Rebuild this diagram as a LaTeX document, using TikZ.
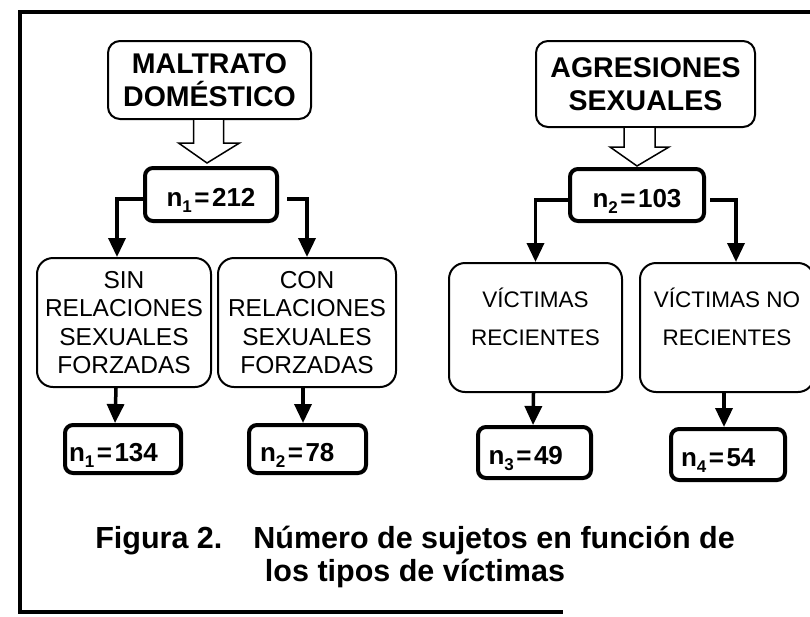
\documentclass[tikz,border=0pt]{standalone}
\usepackage{fontspec}
\setmainfont{Liberation Sans}
\usetikzlibrary{arrows.meta,calc}
\newcommand\nsub[1]{\raisebox{-6pt}{\fontsize{17}{17}\selectfont #1}}
\newcommand\eqq{\hspace{2.5pt}=\hspace{2.5pt}}
\begin{document}
\begin{tikzpicture}[x=1pt,y=-1pt,
  every node/.style={inner sep=0pt, align=center},
  headbox/.style={draw, line width=2pt, rounded corners=12pt, font=\fontsize{28.5}{33}\selectfont\bfseries},
  nbox/.style={draw, line width=4pt, rounded corners=8pt, font=\fontsize{26}{30}\selectfont\bfseries, text height=24pt, text depth=0pt},
  nboxl/.style={nbox, text width=#1, align=left},
  catbox/.style={draw, line width=2pt, rounded corners=16pt},
  cattext/.style={font=\fontsize{24.5}{28.5}\selectfont},
  victext/.style={font=\fontsize{22.5}{38}\selectfont, text depth=22pt},
  arr/.style={line width=3.5pt, -{Triangle[length=19pt,width=17pt]}},
  hollow/.style={draw, line width=1.5pt, fill=white, line join=miter},
  frame/.style={line width=4.5pt}
]
\useasboundingbox (0,0) rectangle (810,616);
\draw[frame] (812,12) -- (20,12) -- (20,612) -- (563,612);

% left tree
\node[headbox, minimum width=203, minimum height=78] (mal) at (209.5,80) {MALTRATO\\DOMÉSTICO};
\node[nbox, minimum width=132, minimum height=53] (n1) at (211,194.5) {n\nsub{1}\eqq212};
\node[catbox, cattext, minimum width=174, minimum height=129] (sin) at (124,322.5) {SIN\\RELACIONES\\SEXUALES\\FORZADAS};
\node[catbox, cattext, minimum width=178, minimum height=129] (con) at (307,322.5) {CON\\RELACIONES\\SEXUALES\\FORZADAS};
\node[nboxl=108, minimum width=116, minimum height=48] (m1) at (123,449) {n\nsub{1}\eqq134};
\node[nboxl=95, minimum width=117, minimum height=48] (m2) at (307.5,449) {n\nsub{2}\eqq78};

\draw[hollow] ($(mal.south)+(-16,0)$) -- ($(mal.south)+(-16,23)$) -- ($(mal.south)+(-31,23)$)
  -- ($(n1.north)+(-4,-3)$) -- ($(mal.south)+(30,23)$) -- ($(mal.south)+(14,23)$) -- ($(mal.south)+(14,0)$);
\draw[arr] ($(n1.west)+(0,4.5)$) -| ($(sin.north)+(-7,0)$);
\draw[arr] ($(n1.east)+(8,4.5)$) -| (con.north);
\draw[arr] ($(sin.south)+(-8,0)$) -- ($(m1.north)+(-8,0)$);
\draw[arr] ($(con.south)+(-4,0)$) -- ($(m2.north)+(-4.5,0)$);

% right tree
\node[headbox, minimum width=219, minimum height=86] (agr) at (645.5,84) {AGRESIONES\\SEXUALES};
\node[nbox, minimum width=134, minimum height=52] (nb) at (637,195) {n\nsub{2}\eqq103};
\node[catbox, victext, minimum width=173, minimum height=129] (vic) at (535.5,327.5) {VÍCTIMAS\\RECIENTES};
\node[catbox, victext, minimum width=174, minimum height=129] (vicno) at (727,327.5) {VÍCTIMAS NO\\RECIENTES};
\node[nboxl=92, minimum width=113, minimum height=51] (m3) at (534.5,452.5) {n\nsub{3}\eqq49};
\node[nboxl=94, minimum width=114, minimum height=51] (m4) at (728,454.5) {n\nsub{4}\eqq54};

\draw[hollow] ($(agr.south)+(-21.5,0)$) -- ($(agr.south)+(-21.5,19)$) -- ($(agr.south)+(-35.5,19)$)
  -- ($(nb.north)+(0,-1)$) -- ($(agr.south)+(23.5,19)$) -- ($(agr.south)+(9.5,19)$) -- ($(agr.south)+(9.5,0)$);
\draw[arr] ($(nb.west)+(0,5)$) -| (vic.north);
\draw[arr] ($(nb.east)+(4,5)$) -| ($(vicno.north)+(9,0)$);
\draw[arr] ($(vic.south)+(-2,0)$) -- ($(m3.north)+(-1.5,0)$);
\draw[arr] ($(vicno.south)+(-3,0)$) -- ($(m4.north)+(-4,0)$);

% caption
\node[font=\fontsize{30.5}{33}\selectfont\bfseries] (cap) at (415,556.5)
  {Figura 2.\hspace{31pt}Número de sujetos en función de\\los tipos de víctimas};
\end{tikzpicture}
\end{document}
